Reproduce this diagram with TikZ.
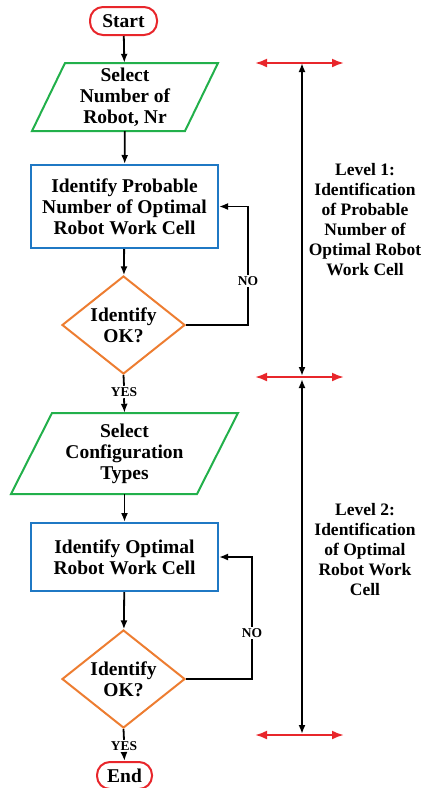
\documentclass[tikz,border=0pt]{standalone}
\usepackage{fontspec}
\setmainfont{Liberation Serif}
\usetikzlibrary{shapes.geometric,arrows.meta,calc}
\definecolor{cred}{HTML}{E8262B}
\definecolor{cgreen}{HTML}{22B04B}
\definecolor{cblue}{HTML}{1F78C4}
\definecolor{corange}{HTML}{ED7D31}
\begin{document}
\begin{tikzpicture}[x=1pt,y=-1pt,
  boxtext/.style={font=\bfseries\fontsize{19.5}{21}\selectfont, align=center, inner sep=0pt},
  pill/.style={boxtext, draw=cred, line width=2pt, rounded corners=13pt},
  procbox/.style={boxtext, draw=cblue, line width=2pt, minimum width=187pt},
  decbox/.style={boxtext, draw=corange, line width=2pt, shape=diamond, aspect=1.255, minimum width=123pt, minimum height=98pt},
  iobox/.style={boxtext},
  flow/.style={line width=1.8pt, -{Latex[length=9pt,width=7pt]}},
  plain/.style={line width=1.8pt},
  lbl/.style={font=\bfseries\fontsize{13.5}{14}\selectfont, inner sep=1.5pt, fill=white},
  lvl/.style={line width=1.8pt, {Latex[length=9pt,width=7pt]}-{Latex[length=9pt,width=7pt]}},
  redarr/.style={line width=2.2pt, draw=cred, {Latex[length=12pt,width=9pt]}-{Latex[length=12pt,width=9pt]}},
  sidetext/.style={font=\bfseries\fontsize{17.5}{20}\selectfont, align=center}
]
\useasboundingbox (0,0) rectangle (423,788);

% left flow
\node[pill, minimum width=67pt, minimum height=28pt] (start) at (123.5,21) {Start};

\draw[cgreen, line width=2pt] (65,63) -- (218,63) -- (185,131) -- (32,131) -- cycle;
\node[iobox, minimum width=153pt, minimum height=68pt] (p1) at (125,97) {Select\\Number of\\Robot, Nr};

\node[procbox, minimum height=83pt] (r1) at (124.5,206.5) {Identify Probable\\Number of Optimal\\Robot Work Cell};

\node[decbox] (d1) at (123.5,325) {Identify\\OK?};
\node[lbl] (yes1) at (124,392) {YES};

\draw[cgreen, line width=2pt] (52,413) -- (238,413) -- (197,494) -- (11,494) -- cycle;
\node[iobox, minimum width=186pt, minimum height=81pt] (p2) at (124.5,453.5) {Select\\Configuration\\Types};

\node[procbox, minimum height=68pt] (r2) at (124.5,557) {Identify Optimal\\Robot Work Cell};

\node[decbox] (d2) at (123.5,679) {Identify\\OK?};
\node[lbl] (yes2) at (124,746) {YES};

\node[pill, minimum width=55pt, minimum height=27pt] (end) at (124.5,775.5) {End};

% connectors
\draw[flow] (start) -- (p1);
\draw[flow] (p1) -- (r1);
\draw[flow] (r1) -- (d1);
\draw[plain] (d1.south) -- (yes1.north);
\draw[flow] (yes1.south) -- (p2.north);
\draw[flow] (p2) -- (r2);
\draw[flow] (r2) -- (d2);
\draw[plain] (d2.south) -- (yes2.north);
\draw[flow] (yes2.south) -- (end.north);

\coordinate (c1a) at (248,325);
\coordinate (c1b) at (248,206.5);
\draw[flow, line join=miter] (d1.east) -- (c1a) -- node[lbl, pos=0.37] (no1) {NO} (c1b) -- (r1.east);
\coordinate (c2a) at (252,679);
\coordinate (c2b) at (252,557);
\draw[flow, line join=miter] (d2.east) -- (c2a) -- node[lbl, pos=0.377] (no2) {NO} (c2b) -- (r2.east);

% right side levels
\coordinate (l1t) at (302,63);
\coordinate (l1b) at (302,376);
\coordinate (l2t) at (302,379);
\coordinate (l2b) at (302,734);
\draw[lvl] (l1t) -- (l1b);
\draw[lvl] (l2t) -- (l2b);

\coordinate (r1l) at (255,63);  \coordinate (r1r) at (344,63);
\coordinate (r2l) at (255,377); \coordinate (r2r) at (344,377);
\coordinate (r3l) at (255,735); \coordinate (r3r) at (344,735);
\draw[redarr] (r1l) -- (r1r);
\draw[redarr] (r2l) -- (r2r);
\draw[redarr] (r3l) -- (r3r);

\node[sidetext] (t1) at (365,220) {Level 1:\\Identification\\of Probable\\Number of\\Optimal Robot\\Work Cell};
\node[sidetext] (t2) at (365,550) {Level 2:\\Identification\\of Optimal\\Robot Work\\Cell};
\end{tikzpicture}
\end{document}
